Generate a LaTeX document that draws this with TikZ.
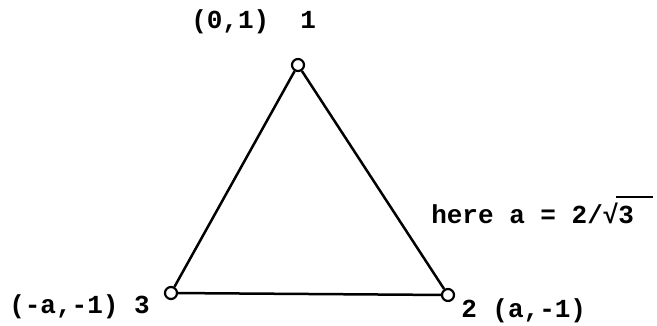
\documentclass[tikz,border=0pt]{standalone}
\usepackage{fontspec}
\setmonofont{Liberation Mono}

\begin{document}
\begin{tikzpicture}[
    x=1pt, y=-1pt,
    line width=2.5pt,
    vertex/.style={draw, circle, fill=white, inner sep=0pt, minimum size=12pt, line width=2.2pt},
    lbl/.style={anchor=base west, inner sep=0pt, font=\ttfamily\bfseries\fontsize{26}{30}\selectfont}
  ]
  \useasboundingbox (0,0) rectangle (657,325);

  \node[vertex] (v1) at (298,65)  {};
  \node[vertex] (v2) at (448,295) {};
  \node[vertex] (v3) at (171,293) {};

  \draw (v1) -- (v2);
  \draw (v2) -- (v3);
  \draw (v3) -- (v1);

  \node[lbl] (lab1) at (190,28)  {(0,1)\ \ 1};
  \node[lbl] (lab3) at (8,313)   {(-a,-1) 3};
  \node[lbl] (lab2) at (460,317) {2 (a,-1)};
  \node[lbl] (note) at (430,223) {here a = 2/√\rlap{\kern-2pt\rule[25pt]{37pt}{2pt}}3};
\end{tikzpicture}
\end{document}
